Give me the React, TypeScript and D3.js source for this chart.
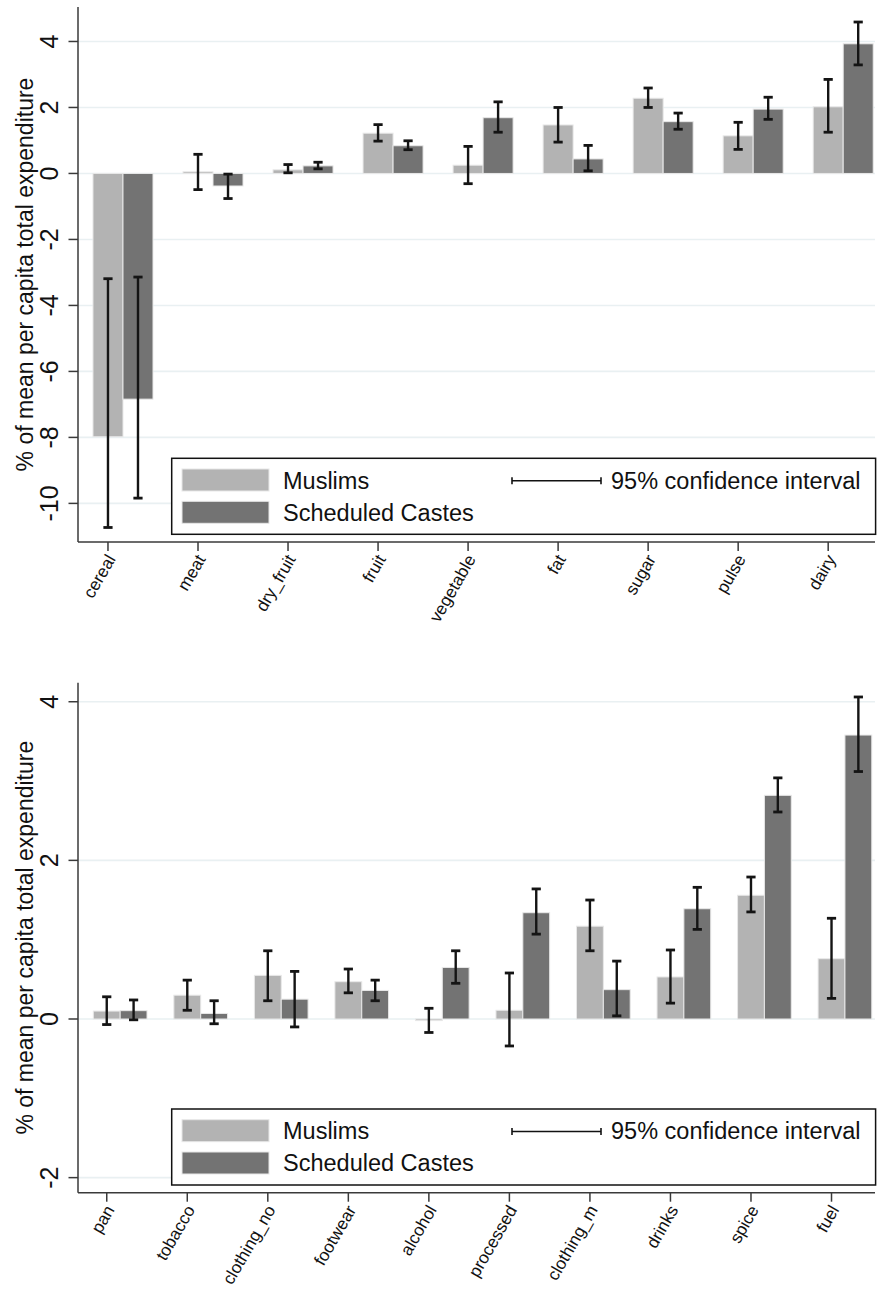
import React from "react";
import * as d3 from "d3";

// ---- Top panel data (food) ----
const topCategories = ["cereal", "meat", "dry_fruit", "fruit", "vegetable", "fat", "sugar", "pulse", "dairy"];
const topMuslims = [-7.98, 0.05, 0.11, 1.22, 0.25, 1.47, 2.28, 1.14, 2.02];
const topMuslimsLo = [-10.73, -0.49, 0.02, 0.98, -0.31, 0.95, 2.0, 0.73, 1.25];
const topMuslimsHi = [-3.19, 0.58, 0.27, 1.48, 0.82, 2.0, 2.59, 1.55, 2.85];
const topSC = [-6.84, -0.38, 0.23, 0.84, 1.69, 0.44, 1.57, 1.95, 3.93];
const topSCLo = [-9.84, -0.76, 0.14, 0.72, 1.25, 0.08, 1.34, 1.64, 3.29];
const topSCHi = [-3.14, -0.02, 0.34, 0.99, 2.17, 0.85, 1.83, 2.31, 4.59];
const topTicks = [-10, -8, -6, -4, -2, 0, 2, 4];

// ---- Bottom panel data (non-food) ----
const botCategories = ["pan", "tobacco", "clothing_no", "footwear", "alcohol", "processed", "clothing_m", "drinks", "spice", "fuel"];
const botMuslims = [0.1, 0.3, 0.55, 0.47, -0.02, 0.11, 1.17, 0.53, 1.56, 0.76];
const botMuslimsLo = [-0.07, 0.11, 0.23, 0.33, -0.17, -0.34, 0.86, 0.2, 1.35, 0.26];
const botMuslimsHi = [0.28, 0.49, 0.86, 0.63, 0.135, 0.58, 1.5, 0.87, 1.79, 1.27];
const botSC = [0.105, 0.07, 0.25, 0.36, 0.65, 1.34, 0.37, 1.39, 2.82, 3.58];
const botSCLo = [-0.01, -0.06, -0.1, 0.23, 0.45, 1.07, 0.04, 1.13, 2.61, 3.12];
const botSCHi = [0.24, 0.23, 0.6, 0.49, 0.86, 1.64, 0.73, 1.66, 3.04, 4.06];
const botTicks = [-2, 0, 2, 4];

const seriesNames = ["Muslims", "Scheduled Castes"];
const ciLabel = "95% confidence interval";
const yTitle = "% of mean per capita total expenditure";

const FONT = "'Liberation Sans', Arial, Helvetica, sans-serif";
const C_M = "#b3b3b3";
const C_SC = "#737373";
const GRID = "#e9f0f2";
const AXIS = "#3a3a3a";
const ERR = "#141414";

type PanelProps = {
  categories: string[];
  m: number[]; mLo: number[]; mHi: number[];
  sc: number[]; scLo: number[]; scHi: number[];
  ticks: number[];
  yDomain: [number, number];
  yRange: [number, number]; // [bottom, top] pixels
  xDomain: [number, number];
};

const LEFT = 78;
const RIGHT = 875;

function Panel(p: PanelProps) {
  const x = d3.scaleLinear().domain(p.xDomain).range([LEFT, RIGHT]);
  const y = d3.scaleLinear().domain(p.yDomain).range(p.yRange);
  const off = 1 / 3;
  const bw = x(off) - x(0);
  const axisY = p.yRange[0];
  const topY = p.yRange[1];
  const midY = (axisY + topY) / 2;
  const y0 = y(0);

  const bars = (vals: number[], shift: number, color: string) =>
    vals.map((v, i) => {
      const cx = x(i + shift);
      const yv = y(v);
      return (
        <rect key={`b${shift}-${i}`} x={cx - bw / 2} y={Math.min(yv, y0)} width={bw}
          height={Math.max(Math.abs(yv - y0), 0.5)} fill={color} stroke="#e8e8e8" strokeWidth={1} />
      );
    });

  const errs = (lo: number[], hi: number[], shift: number) =>
    lo.map((l, i) => {
      const cx = x(i + shift);
      const a = y(hi[i]);
      const b = y(l);
      return (
        <g key={`e${shift}-${i}`} stroke={ERR} strokeWidth={2.4}>
          <line x1={cx} x2={cx} y1={a} y2={b} />
          <line x1={cx - 4.6} x2={cx + 4.6} y1={a} y2={a} strokeWidth={2.8} />
          <line x1={cx - 4.6} x2={cx + 4.6} y1={b} y2={b} strokeWidth={2.8} />
        </g>
      );
    });

  const legTop = axisY - 83.7;
  const legLeft = LEFT + 93.7;

  return (
    <g>
      {p.ticks.map((t) => (
        <line key={`g${t}`} x1={LEFT} x2={RIGHT} y1={y(t)} y2={y(t)} stroke={GRID} strokeWidth={1.6} />
      ))}
      {bars(p.m, 0, C_M)}
      {bars(p.sc, off, C_SC)}
      {errs(p.mLo, p.mHi, 0)}
      {errs(p.scLo, p.scHi, off)}
      {/* y axis */}
      <line x1={LEFT} x2={LEFT} y1={topY} y2={axisY} stroke={AXIS} strokeWidth={1.5} />
      {p.ticks.map((t) => (
        <g key={`yt${t}`}>
          <line x1={LEFT - 9.5} x2={LEFT} y1={y(t)} y2={y(t)} stroke={AXIS} strokeWidth={1.5} />
          <text transform={`translate(49.7,${y(t)}) rotate(-90)`} textAnchor="middle"
            dy="0.35em" fontSize={25} fontFamily={FONT} fill="#111">{String(t)}</text>
        </g>
      ))}
      <text transform={`translate(25.3,${midY}) rotate(-90)`} textAnchor="middle" dy="0.35em"
        fontSize={23} fontFamily={FONT} fill="#111">{yTitle}</text>
      {/* x axis */}
      <line x1={LEFT} x2={RIGHT} y1={axisY} y2={axisY} stroke={AXIS} strokeWidth={1.5} />
      {p.categories.map((c, i) => (
        <g key={`xt${c}`}>
          <line x1={x(i)} x2={x(i)} y1={axisY} y2={axisY + 9} stroke={AXIS} strokeWidth={1.5} />
          <text transform={`translate(${x(i) + 3},${axisY + 14}) rotate(-60)`} textAnchor="end"
            dy="0.35em" fontSize={17.2} fontFamily={FONT} fill="#111">{c}</text>
        </g>
      ))}
      {/* legend */}
      <rect x={legLeft} y={legTop} width={RIGHT + 0.6 - legLeft} height={76} fill="#fff" stroke="#111" strokeWidth={1.5} />
      <rect x={182} y={legTop + 10.7} width={87} height={22} fill={C_M} stroke="#e8e8e8" strokeWidth={1} />
      <rect x={182} y={legTop + 43} width={87} height={22} fill={C_SC} stroke="#e8e8e8" strokeWidth={1} />
      <text x={283} y={legTop + 22} dy="0.35em" fontSize={23.5} fontFamily={FONT} fill="#111">{seriesNames[0]}</text>
      <text x={283} y={legTop + 54} dy="0.35em" fontSize={23.5} fontFamily={FONT} fill="#111">{seriesNames[1]}</text>
      <g stroke="#111" strokeWidth={1.6}>
        <line x1={512} x2={601} y1={legTop + 22.5} y2={legTop + 22.5} />
        <line x1={512} x2={512} y1={legTop + 19} y2={legTop + 26} />
        <line x1={601} x2={601} y1={legTop + 19} y2={legTop + 26} />
      </g>
      <text x={611} y={legTop + 22} dy="0.35em" fontSize={23.5} fontFamily={FONT} fill="#111">{ciLabel}</text>
    </g>
  );
}

export default function App() {
  return (
    <svg width={877} height={1293} style={{ position: "absolute", left: 0, top: 0, display: "block", background: "#fff" }}>
      <rect x={0} y={0} width={877} height={1293} fill="#fff" />
      <Panel categories={topCategories} m={topMuslims} mLo={topMuslimsLo} mHi={topMuslimsHi}
        sc={topSC} scLo={topSCLo} scHi={topSCHi} ticks={topTicks}
        yDomain={[-11.17, 5.045]} yRange={[542, 7]} xDomain={[-0.333, 8.52]} />
      <Panel categories={botCategories} m={botMuslims} mLo={botMuslimsLo} mHi={botMuslimsHi}
        sc={botSC} scLo={botSCLo} scHi={botSCHi} ticks={botTicks}
        yDomain={[-2.19, 4.24]} yRange={[1192.7, 682.7]} xDomain={[-0.357, 9.54]} />
    </svg>
  );
}
